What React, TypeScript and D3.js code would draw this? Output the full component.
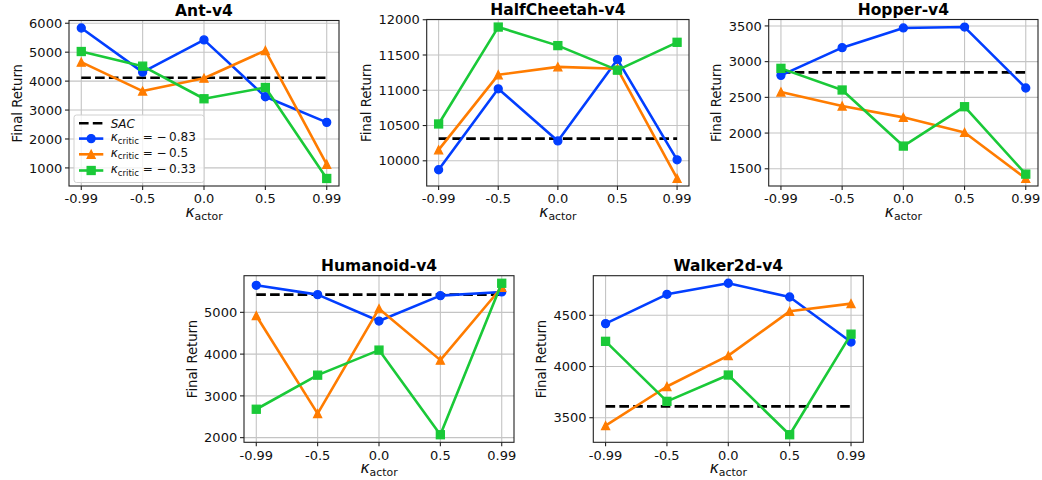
import React from "react";
import * as d3 from "d3";

// ---------- data ----------
const kappaActor = ["-0.99", "-0.5", "0.0", "0.5", "0.99"];

const antBlue = [5835, 4310, 5425, 3460, 2575];
const antOrange = [4655, 3655, 4100, 5057, 1125];
const antGreen = [5023, 4517, 3390, 3780, 635];
const antSAC = 4115;
const antTicks = [1000, 2000, 3000, 4000, 5000, 6000];

const hcBlue = [9873, 11021, 10282, 11435, 10014];
const hcOrange = [10155, 11219, 11332, 11304, 9750];
const hcGreen = [10522, 11896, 11633, 11285, 11680];
const hcSAC = 10315;
const hcTicks = [10000, 10500, 11000, 11500, 12000];

const hopBlue = [2808, 3196, 3472, 3484, 2631];
const hopOrange = [2575, 2379, 2220, 2009, 1365];
const hopGreen = [2906, 2603, 1818, 2369, 1425];
const hopSAC = 2850;
const hopTicks = [1500, 2000, 2500, 3000, 3500];

const humBlue = [5648, 5424, 4792, 5400, 5488];
const humOrange = [4920, 2576, 5088, 3856, 5600];
const humGreen = [2680, 3496, 4096, 2070, 5696];
const humSAC = 5424;
const humTicks = [2000, 3000, 4000, 5000];

const walkBlue = [4419, 4705, 4813, 4679, 4239];
const walkOrange = [3422, 3805, 4106, 4539, 4614];
const walkGreen = [4246, 3660, 3917, 3334, 4316];
const walkSAC = 3611;
const walkTicks = [3500, 4000, 4500];

const seriesColors = ["#023eff", "#ff7c00", "#1ac938"];
const seriesMarkers = ["circle", "triangle", "square"];
const legendValues = ["\u22120.83", "\u22120.5", "\u22120.33"];

// ---------- layout ----------
const FONT = "DejaVu Sans, sans-serif";
const TICK_FS = 13;
const MS = 8;
const LW = 2.6;

type Panel = {
  title: string;
  series: number[][];
  sac: number;
  ticks: number[];
  box: [number, number, number, number];
  legend?: boolean;
};

const panels: Panel[] = [
  { title: "Ant-v4", series: [antBlue, antOrange, antGreen], sac: antSAC, ticks: antTicks, box: [69, 20.5, 339, 186], legend: true },
  { title: "HalfCheetah-v4", series: [hcBlue, hcOrange, hcGreen], sac: hcSAC, ticks: hcTicks, box: [426.7, 19.5, 689, 186] },
  { title: "Hopper-v4", series: [hopBlue, hopOrange, hopGreen], sac: hopSAC, ticks: hopTicks, box: [768.7, 19.5, 1038, 186] },
  { title: "Humanoid-v4", series: [humBlue, humOrange, humGreen], sac: humSAC, ticks: humTicks, box: [244, 275.7, 514, 442.3] },
  { title: "Walker2d-v4", series: [walkBlue, walkOrange, walkGreen], sac: walkSAC, ticks: walkTicks, box: [593.3, 275.7, 863.3, 442.3] },
];

function Marker({ kind, x, y, color }: { kind: string; x: number; y: number; color: string }) {
  const s = MS;
  if (kind === "circle") return <circle cx={x} cy={y} r={s / 2} fill={color} stroke={color} strokeWidth={1.3} />;
  if (kind === "square") return <rect x={x - s / 2} y={y - s / 2} width={s} height={s} fill={color} stroke={color} strokeWidth={1.3} />;
  const p = `M${x},${y - s / 2}L${x - s / 2},${y + s / 2}L${x + s / 2},${y + s / 2}Z`;
  return <path d={p} fill={color} stroke={color} strokeWidth={1.3} strokeLinejoin="miter" />;
}

function PanelView({ p }: { p: Panel }) {
  const [l, t, r, b] = p.box;
  const idx = kappaActor.map((_, i) => i);
  const x = d3.scaleLinear().domain([-0.2, 4.2]).range([l, r]);
  const all = [...p.series.flat(), p.sac];
  const lo = d3.min(all) as number;
  const hi = d3.max(all) as number;
  const pad = (hi - lo) * 0.05;
  const y = d3.scaleLinear().domain([lo - pad, hi + pad]).range([b, t]);
  const line = d3
    .line<number>()
    .x((_, i) => x(i))
    .y((d) => y(d));
  const maxLabelW = d3.max(p.ticks, (v) => String(v).length * 0.636 * TICK_FS) as number;
  const ylabelX = l - maxLabelW - 14.4;
  const cx = (l + r) / 2;
  const cy = (t + b) / 2;
  const tickCol = "#222";
  return (
    <g>
      {/* grid */}
      {idx.map((i) => (
        <line key={"gx" + i} x1={x(i)} x2={x(i)} y1={t} y2={b} stroke="#c4c4c4" strokeWidth={1.1} />
      ))}
      {p.ticks.map((v) => (
        <line key={"gy" + v} x1={l} x2={r} y1={y(v)} y2={y(v)} stroke="#c4c4c4" strokeWidth={1.1} />
      ))}
      {/* SAC */}
      <line x1={x(0)} x2={x(4)} y1={y(p.sac)} y2={y(p.sac)} stroke="#000" strokeWidth={LW} strokeDasharray="9.6,4.2" />
      {/* series */}
      {p.series.map((s, k) => (
        <g key={"s" + k}>
          <path d={line(s) || ""} fill="none" stroke={seriesColors[k]} strokeWidth={LW} strokeLinejoin="round" strokeLinecap="butt" />
          {s.map((v, i) => (
            <Marker key={i} kind={seriesMarkers[k]} x={x(i)} y={y(v)} color={seriesColors[k]} />
          ))}
        </g>
      ))}
      {/* spines */}
      <rect x={l} y={t} width={r - l} height={b - t} fill="none" stroke={tickCol} strokeWidth={1.1} />
      {/* x ticks */}
      {idx.map((i) => (
        <g key={"xt" + i}>
          <line x1={x(i)} x2={x(i)} y1={b} y2={b + 4} stroke={tickCol} strokeWidth={1.1} />
          <text x={x(i)} y={b + 17.3} textAnchor="middle" fontFamily={FONT} fontSize={TICK_FS} fill="#111">
            {kappaActor[i]}
          </text>
        </g>
      ))}
      {/* y ticks */}
      {p.ticks.map((v) => (
        <g key={"yt" + v}>
          <line x1={l - 4} x2={l} y1={y(v)} y2={y(v)} stroke={tickCol} strokeWidth={1.1} />
          <text x={l - 6.8} y={y(v) + 4.7} textAnchor="end" fontFamily={FONT} fontSize={TICK_FS} fill="#111">
            {v}
          </text>
        </g>
      ))}
      {/* labels */}
      <text x={ylabelX} y={cy} transform={`rotate(-90 ${ylabelX} ${cy})`} textAnchor="middle" fontFamily={FONT} fontSize={13.2} fill="#111">
        Final Return
      </text>
      <text x={cx} y={b + 30.7} textAnchor="middle" fontFamily={FONT} fontSize={15.5} fill="#111">
        <tspan fontStyle="italic">κ</tspan>
        <tspan fontSize={10.9} dy={3}>actor</tspan>
      </text>
      <text x={cx} y={t - 4.5} textAnchor="middle" fontFamily={FONT} fontSize={15.5} fontWeight="bold" fill="#000">
        {p.title}
      </text>
      {p.legend && <Legend l={l} b={b} />}
    </g>
  );
}

function Legend({ l, b }: { l: number; b: number }) {
  const lx = l + 5;
  const ly = 115;
  const w = 130;
  const h = 67.5;
  const rows = [123.3, 138.6, 154.3, 170.5];
  const hx1 = lx + 5;
  const hx2 = lx + 29.3;
  const tx = lx + 36.7;
  const fs = 12;
  return (
    <g>
      <rect x={lx} y={ly} width={w} height={h} rx={2.5} fill="#fff" fillOpacity={0.8} stroke="#d0d0d0" strokeWidth={1} />
      <line x1={hx1} x2={hx2} y1={rows[0]} y2={rows[0]} stroke="#000" strokeWidth={LW} strokeDasharray="9.6,4.2" />
      <text x={tx} y={rows[0] + 4.2} fontFamily={FONT} fontSize={fs} fontStyle="italic" fill="#111">
        SAC
      </text>
      {legendValues.map((v, k) => {
        const ry = rows[k + 1];
        return (
          <g key={k}>
            <line x1={hx1} x2={hx2} y1={ry} y2={ry} stroke={seriesColors[k]} strokeWidth={LW} />
            <Marker kind={seriesMarkers[k]} x={(hx1 + hx2) / 2} y={ry} color={seriesColors[k]} />
            <text x={tx} y={ry + 2.5} fontFamily={FONT} fontSize={fs} fill="#111">
              <tspan fontStyle="italic">κ</tspan>
              <tspan fontSize={8.6} dy={2.6}>critic</tspan>
              <tspan dy={-2.6}>{" = " + v.replace("\u2212", "\u2212\u2009")}</tspan>
            </text>
          </g>
        );
      })}
    </g>
  );
}

export default function App() {
  return (
    <svg width={1042} height={480} style={{ position: "absolute", left: 0, top: 0, background: "#fff" }}>
      <rect x={0} y={0} width={1042} height={480} fill="#fff" />
      {panels.map((p) => (
        <PanelView key={p.title} p={p} />
      ))}
    </svg>
  );
}
